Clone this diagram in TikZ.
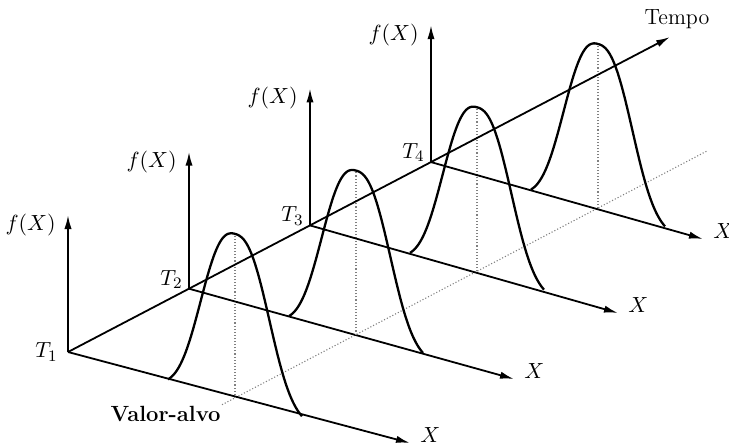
\documentclass[tikz,border=0pt]{standalone}
\usepackage{amsmath}
\usepackage{tikz}
\usetikzlibrary{positioning}
\usetikzlibrary{calc}
\usetikzlibrary{arrows.meta}

\begin{document}
\begin{tikzpicture}[x=0.5pt, y=-0.5pt,
    axis/.style={line width=0.9pt, -{Latex[length=7pt,width=3.6pt]}},
    bell/.style={line width=1.15pt},
    guide/.style={gray, densely dotted, line width=0.55pt},
    lbl/.style={font=\fontsize{11}{13}\selectfont, inner sep=1pt}]

    \useasboundingbox (0,0) rectangle (729,446);

    \foreach \i/\pos/\xt in {1/{68,352}/{410,443}, 2/{189,288.7}/{514,379}, 3/{310,225.4}/{618,313}, 4/{431,162.1}/{703,239}}{
        \coordinate (t\i) at (\pos);
        \coordinate (f\i) at ($(t\i)+(0,-137)$);
        \coordinate (x\i) at (\xt);
        \coordinate (m\i) at ($(t\i)+(167,45.9)$);
    }
    \coordinate (tempo) at (670,37);
    \coordinate (v0) at ($(m1)+(-13,6.8)$);
    \coordinate (v1) at ($(m4)+(109,-57)$);

    \draw[guide] (v0) -- (v1);

    \foreach \i in {1,...,4}{
        \draw[axis] (t\i) -- (f\i);
        \draw[axis] (t\i) -- (x\i);
        \node[lbl, left=5pt of f\i, yshift=-5pt] (lf\i) {$f(X)$};
        \node[lbl, right=4pt of x\i, yshift=4pt] (lx\i) {$X$};
        \begin{scope}[shift={(m\i)}, x={(0.5pt,-0.1375pt)}, y={(0pt,0.5pt)}]
            \draw[bell] plot[domain=-67:67, samples=121] (\x,{164*(exp(-pow(abs(\x)/42.3,2.5))-0.042)/0.958});
            \draw[guide] (0,0) -- (0,164);
        \end{scope}
    }
    \draw[axis] (t1) -- (tempo);

    \node[lbl, left=4pt of t1] (lt1) {$T_1$};
    \foreach \i in {2,3,4}{
        \node[lbl, above left=-1pt and 2pt of t\i] (lt\i) {$T_\i$};
    }
    \node[lbl, above=3pt of tempo, xshift=3.5pt] (ltempo) {Tempo};
    \node[lbl, font=\fontsize{11}{13}\selectfont\bfseries, anchor=east] (lvalor) at ($(v0)+(1,9)$) {Valor-alvo};

\end{tikzpicture}
\end{document}
